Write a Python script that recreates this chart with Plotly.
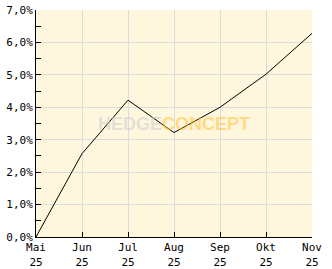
import plotly.graph_objects as go

months = ["Mai<br>25", "Jun<br>25", "Jul<br>25", "Aug<br>25", "Sep<br>25", "Okt<br>25", "Nov<br>25"]
values = [0.0, 2.57, 4.22, 3.22, 4.0, 5.02, 6.28]
ytick_vals = [0, 1, 2, 3, 4, 5, 6, 7]
ytick_text = ["0,0%", "1,0%", "2,0%", "3,0%", "4,0%", "5,0%", "6,0%", "7,0%"]

xs = list(range(len(months)))
font = dict(family="DejaVu Sans Mono", size=11, color="#000000")

fig = go.Figure()
fig.add_trace(go.Scatter(x=xs, y=values, mode="lines",
                         line=dict(color="#000000", width=1), hoverinfo="skip"))

fig.add_annotation(x=0.5, y=0.5, xref="paper", yref="paper",
                   text="<b><span style='color:rgba(200,200,200,0.5)'>HEDGE</span><span style='color:rgba(255,195,50,0.55)'>CONCEPT</span></b>",
                   showarrow=False, font=dict(family="Liberation Sans", size=18))

fig.update_layout(
    width=332, height=269,
    margin=dict(l=36, r=20, t=10, b=32, autoexpand=False),
    paper_bgcolor="#FFFFFF", plot_bgcolor="#FFF6DE",
    showlegend=False, font=font,
    xaxis=dict(range=[0, 6], tickvals=xs, ticktext=months, ticks="inside", ticklen=5,
               tickcolor="#000000", showline=True, linecolor="#000000", linewidth=1,
               showgrid=True, gridcolor="#DCDCDC", gridwidth=1, zeroline=False,
               tickfont=font, fixedrange=True, automargin=False),
    yaxis=dict(range=[0, 7], tickvals=ytick_vals, ticktext=ytick_text, ticks="inside", ticklen=5,
               tickcolor="#000000", showline=True, linecolor="#000000", linewidth=1,
               showgrid=True, gridcolor="#DCDCDC", gridwidth=1, zeroline=False,
               tickfont=font, fixedrange=True, automargin=False,
               minor=dict(tickvals=[0.5, 1.5, 2.5, 3.5, 4.5, 5.5, 6.5], ticks="inside", ticklen=5,
                          tickcolor="#000000", showgrid=False)),
)

fig.write_html("out.html", config={"displayModeBar": False})
